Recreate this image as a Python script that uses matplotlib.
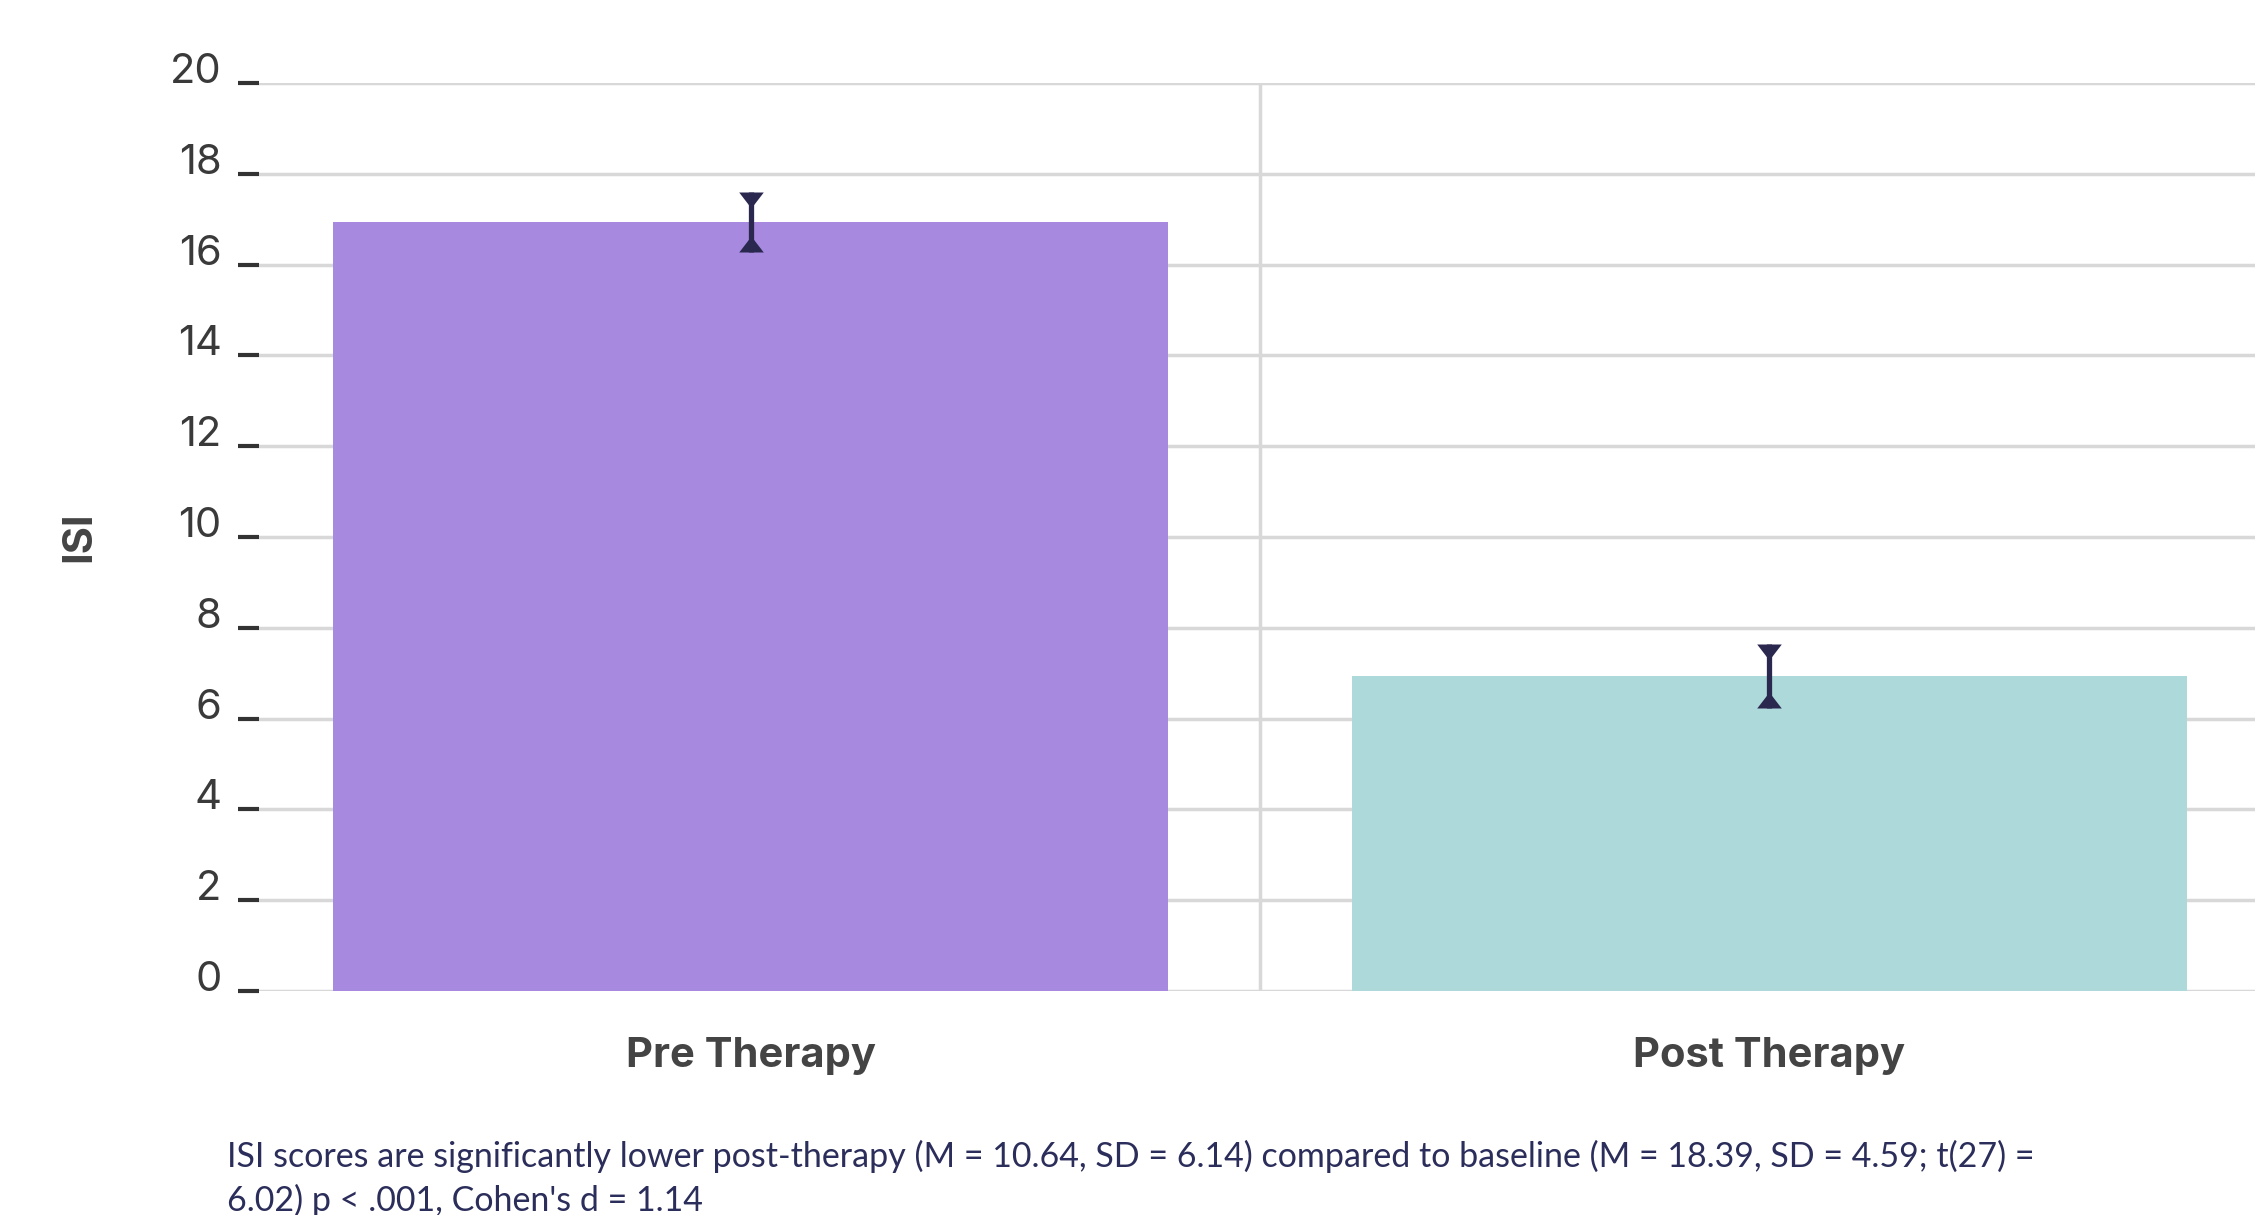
import matplotlib
matplotlib.use("Agg")
import matplotlib.pyplot as plt
from matplotlib import font_manager
from matplotlib.path import Path
from matplotlib.markers import MarkerStyle

categories = ["Pre Therapy", "Post Therapy"]
means = [16.94, 6.94]
errors = [0.66, 0.70]
bar_colors = ["#A78ADF", "#ADD9DA"]
yticks = [0, 2, 4, 6, 8, 10, 12, 14, 16, 18, 20]
caption_lines = [
    "ISI scores are significantly lower post-therapy (M = 10.64, SD = 6.14) compared to baseline (M = 18.39, SD = 4.59; t(27) =",
    "6.02) p < .001, Cohen's d = 1.14",
]

avail = {f.name for f in font_manager.fontManager.ttflist}
main_font = "Inter" if "Inter" in avail else "DejaVu Sans"
cap_font = "Lato" if "Lato" in avail else "Open Sans"

W, H = 2255, 1215
fig = plt.figure(figsize=(W / 100, H / 100), dpi=100)
ax = fig.add_axes([259 / W, 1 - 991 / H, 1 - 259 / W, (991 - 83) / H])

x = list(range(len(categories)))
ax.bar(x, means, width=0.82, color=bar_colors, zorder=2)
err_col = "#2B2850"
ax.errorbar(x, means, yerr=errors, fmt="none", ecolor=err_col, elinewidth=3.8, capsize=0, zorder=3)
tops = [m + e for m, e in zip(means, errors)]
bots = [m - e for m, e in zip(means, errors)]
# triangles whose flat side sits on the error-bar end
down_tri = MarkerStyle(Path([(-1, 0), (1, 0), (0, -1.3), (-1, 0)], closed=True))
up_tri = MarkerStyle(Path([(-1, 0), (1, 0), (0, 1.3), (-1, 0)], closed=True))
ax.plot(x, tops, linestyle="none", marker=down_tri, markersize=23, color=err_col,
        markeredgewidth=0, zorder=4)
ax.plot(x, bots, linestyle="none", marker=up_tri, markersize=23, color=err_col,
        markeredgewidth=0, zorder=4)

ax.set_xlim(-0.483, 1.477)
ax.set_ylim(0, 20)
ax.set_yticks(yticks)
ax.set_yticklabels([str(t) for t in yticks], fontsize=30, family=main_font, color="#3A3A3A")
for lab in ax.get_yticklabels():
    lab.set_verticalalignment("baseline")
ax.tick_params(axis="y", length=15, width=3, color="#333333", pad=12, direction="out")
ax.set_xticks(x)
ax.set_xticklabels(categories, fontsize=30, family=main_font, fontweight="bold", color="#444444")
ax.tick_params(axis="x", length=0, pad=33)
ax.set_xticks([0.5], minor=True)
ax.tick_params(axis="x", which="minor", length=0)

ax.grid(axis="y", color="#D8D8D8", linewidth=2.5, zorder=0)
ax.grid(axis="x", which="minor", color="#D8D8D8", linewidth=2.5, zorder=0)
ax.set_axisbelow(True)
for s in ax.spines.values():
    s.set_visible(False)

ax.set_ylabel("ISI", fontsize=30, family=main_font, fontweight="bold", color="#444444")
ax.yaxis.set_label_coords((98 - 259) / (W - 259), 0.5)

# caption, sized so the first line spans the same width as in the reference
renderer = fig.canvas.get_renderer()
fs = 25
t1 = fig.text(227 / W, 1 - 1167 / H, caption_lines[0], fontsize=fs, family=cap_font,
              color="#2B2D5A", va="baseline", ha="left")
w = t1.get_window_extent(renderer).width
fs = fs * 1812 / w
t1.set_fontsize(fs)
fig.text(227 / W, 1 - 1211 / H, caption_lines[1], fontsize=fs, family=cap_font,
         color="#2B2D5A", va="baseline", ha="left")

fig.savefig("out.png", dpi=100)
